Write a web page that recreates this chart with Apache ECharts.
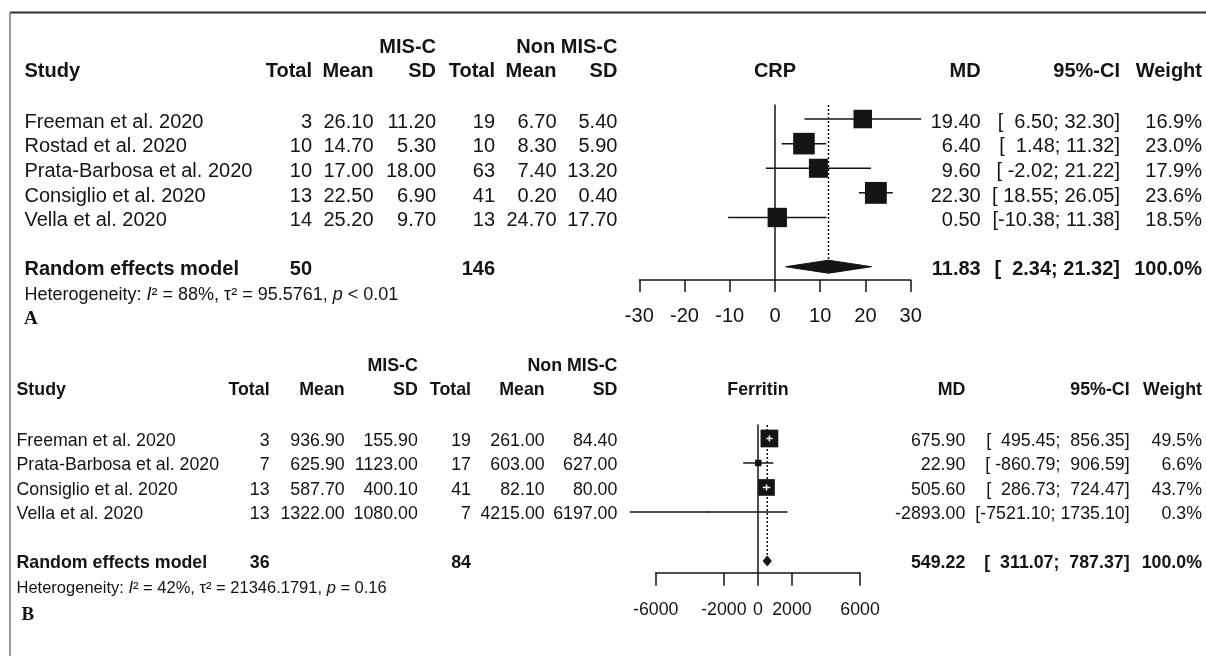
<!DOCTYPE html>
<html>
<head>
<meta charset="utf-8">
<script src="https://cdn.jsdelivr.net/npm/echarts@6/dist/echarts.min.js"></script>
<style>
  html, body { margin: 0; padding: 0; background: #fff; }
  #chart { width: 1206px; height: 656px; }
</style>
</head>
<body>
<div id="chart"></div>
<script>
// ---------- Panel A: CRP ----------
const crpStudies = ['Freeman et al. 2020', 'Rostad et al. 2020', 'Prata-Barbosa et al. 2020', 'Consiglio et al. 2020', 'Vella et al. 2020'];
const crpMiscN = [3, 10, 10, 13, 14];
const crpMiscMean = [26.10, 14.70, 17.00, 22.50, 25.20];
const crpMiscSD = [11.20, 5.30, 18.00, 6.90, 9.70];
const crpNonN = [19, 10, 63, 41, 13];
const crpNonMean = [6.70, 8.30, 7.40, 0.20, 24.70];
const crpNonSD = [5.40, 5.90, 13.20, 0.40, 17.70];
const crpMD = [19.40, 6.40, 9.60, 22.30, 0.50];
const crpLower = [6.50, 1.48, -2.02, 18.55, -10.38];
const crpUpper = [32.30, 11.32, 21.22, 26.05, 11.38];
const crpWeight = [16.9, 23.0, 17.9, 23.6, 18.5];
const crpPooled = [11.83, 2.34, 21.32];          // MD, lower, upper
const crpTotals = [50, 146];
const crpHet = ['88%', '95.5761', '< 0.01'];      // I², tau², p
const crpTicks = [-30, -20, -10, 0, 10, 20, 30];

// ---------- Panel B: Ferritin ----------
const ferStudies = ['Freeman et al. 2020', 'Prata-Barbosa et al. 2020', 'Consiglio et al. 2020', 'Vella et al. 2020'];
const ferMiscN = [3, 7, 13, 13];
const ferMiscMean = [936.90, 625.90, 587.70, 1322.00];
const ferMiscSD = [155.90, 1123.00, 400.10, 1080.00];
const ferNonN = [19, 17, 41, 7];
const ferNonMean = [261.00, 603.00, 82.10, 4215.00];
const ferNonSD = [84.40, 627.00, 80.00, 6197.00];
const ferMD = [675.90, 22.90, 505.60, -2893.00];
const ferLower = [495.45, -860.79, 286.73, -7521.10];
const ferUpper = [856.35, 906.59, 724.47, 1735.10];
const ferWeight = [49.5, 6.6, 43.7, 0.3];
const ferPooled = [549.22, 311.07, 787.37];
const ferTotals = [36, 84];
const ferHet = ['42%', '21346.1791', '= 0.16'];
const ferTicks = [-6000, -2000, 0, 2000, 6000];

const INK = '#141414';
const SANS = '"Liberation Sans", Arial, Helvetica, sans-serif';
const SERIF = '"Liberation Serif", "Times New Roman", serif';

// Panel layout
const panels = [
  {
    title: 'CRP', studies: crpStudies, miscN: crpMiscN, miscMean: crpMiscMean, miscSD: crpMiscSD,
    nonN: crpNonN, nonMean: crpNonMean, nonSD: crpNonSD, md: crpMD, lo: crpLower, hi: crpUpper,
    w: crpWeight, pooled: crpPooled, totals: crpTotals, het: crpHet, ticks: crpTicks, letter: 'A',
    grid: { left: 639.3, width: 271.4, top: 105, height: 175 },
    yMin: -0.57, yMax: 6.54, pooledRow: 6,
    xMin: -30, xMax: 30, xInterval: 10,
    boxK: 4.5, diamondH: 6.5, tickLen: 12, labelMargin: 26,
    font: 20, hetFont: 18, textDy: 3.2,
    studyX: 24.5, cols: [312, 373.5, 436, 495, 556.5, 617.4],
    mdX: 980.7, ciX: 1120, wX: 1202,
    groupY: 47.7, headY: 71.7, hetY: 295, letterY: 319.5, letterX: 24
  },
  {
    title: 'Ferritin', studies: ferStudies, miscN: ferMiscN, miscMean: ferMiscMean, miscSD: ferMiscSD,
    nonN: ferNonN, nonMean: ferNonMean, nonSD: ferNonSD, md: ferMD, lo: ferLower, hi: ferUpper,
    w: ferWeight, pooled: ferPooled, totals: ferTotals, het: ferHet, ticks: ferTicks, letter: 'B',
    grid: { left: 655.7, width: 204.4, top: 425, height: 147.7 },
    yMin: -0.55, yMax: 5.48, pooledRow: 5,
    xMin: -6000, xMax: 6000, xInterval: 2000,
    boxK: 2.52, diamondH: 5, tickLen: 13, labelMargin: 28,
    font: 17.8, hetFont: 16.5, textDy: 2.4,
    studyX: 16.5, cols: [269.6, 344.7, 417.8, 471, 544.7, 617.4],
    mdX: 965.3, ciX: 1129.6, wX: 1202,
    groupY: 366, headY: 390.5, hetY: 588.5, letterY: 615.5, letterX: 21.5
  }
];

const f2 = v => v.toFixed(2);
function padList(vals) {
  const s = vals.map(f2);
  const n = Math.max(...s.map(t => t.length));
  return s.map(t => t.padStart(n, ' '));
}

function studySeries(p, gi) {
  const rows = p.md.map((m, i) => [m, i, p.lo[i], p.hi[i], p.w[i]]);
  return [
    {
      type: 'line', xAxisIndex: gi, yAxisIndex: gi, silent: true, symbol: 'none', z: 1,
      data: [[p.pooled[0], p.yMin], [p.pooled[0], p.pooledRow]],
      lineStyle: { color: INK, width: 1.5, type: [2, 2] }
    },
    {
      type: 'custom', xAxisIndex: gi, yAxisIndex: gi, silent: true, clip: false, z: 3,
      data: rows,
      renderItem: (params, api) => {
        const y = api.value(1);
        const c = api.coord([api.value(0), y]);
        const l = api.coord([api.value(2), y]);
        const h = api.coord([api.value(3), y]);
        const s = p.boxK * Math.sqrt(api.value(4));
        const children = [
          { type: 'line', shape: { x1: l[0], y1: c[1], x2: h[0], y2: c[1] }, style: { stroke: INK, lineWidth: 1.5 } },
          { type: 'rect', shape: { x: c[0] - s / 2, y: c[1] - s / 2, width: s, height: s }, style: { fill: INK } }
        ];
        if (h[0] - l[0] < s) {
          children.push(
            { type: 'line', shape: { x1: l[0], y1: c[1], x2: h[0], y2: c[1] }, style: { stroke: '#fff', lineWidth: 1.5 } },
            { type: 'line', shape: { x1: c[0], y1: c[1] - 3, x2: c[0], y2: c[1] + 3 }, style: { stroke: '#fff', lineWidth: 1.5 } }
          );
        }
        return { type: 'group', children };
      }
    },
    {
      type: 'custom', xAxisIndex: gi, yAxisIndex: gi, silent: true, clip: false, z: 4,
      data: [[p.pooled[0], p.pooledRow, p.pooled[1], p.pooled[2]]],
      renderItem: (params, api) => {
        const y = api.value(1);
        const c = api.coord([api.value(0), y]);
        const l = api.coord([api.value(2), y]);
        const h = api.coord([api.value(3), y]);
        const d = p.diamondH;
        return {
          type: 'polygon',
          shape: { points: [[l[0], c[1]], [c[0], c[1] - d], [h[0], c[1]], [c[0], c[1] + d]] },
          style: { fill: INK, stroke: INK, lineWidth: 1 }
        };
      }
    }
  ];
}

const option = {
  animation: false,
  backgroundColor: '#fff',
  grid: panels.map(p => Object.assign({ containLabel: false }, p.grid)),
  xAxis: panels.map((p, gi) => ({
    gridIndex: gi, type: 'value', min: p.xMin, max: p.xMax, interval: p.xInterval,
    axisLine: { show: true, onZero: false, lineStyle: { color: INK, width: 1.5 } },
    axisTick: { show: true, length: p.tickLen, customValues: p.ticks, lineStyle: { color: INK, width: 1.5 } },
    axisLabel: {
      customValues: p.ticks, margin: p.labelMargin, fontSize: p.font, fontFamily: SANS, color: INK,
      formatter: v => String(v)
    },
    splitLine: { show: false }
  })),
  yAxis: panels.map((p, gi) => ({
    gridIndex: gi, type: 'value', inverse: true, min: p.yMin, max: p.yMax,
    axisLine: { show: true, onZero: true, lineStyle: { color: INK, width: 1.5 } },
    axisTick: { show: false }, axisLabel: { show: false }, splitLine: { show: false }
  })),
  series: panels.flatMap((p, gi) => studySeries(p, gi))
};

const chart = echarts.init(document.getElementById('chart'), null, { renderer: 'canvas' });
chart.setOption(option);

// ---------- Table text ----------
function txt(text, x, y, size, o) {
  o = o || {};
  const align = o.align || 'left';
  return {
    type: 'text', silent: true, z: 10,
    style: {
      text, x, y, fill: INK,
      font: (o.bold ? 'bold ' : '') + size + 'px ' + (o.family || SANS),
      align, textAlign: align, verticalAlign: 'middle', textVerticalAlign: 'middle'
    }
  };
}

const graphics = [
  { type: 'line', silent: true, shape: { x1: 10, y1: 12.5, x2: 1206, y2: 12.5 }, style: { stroke: '#333', lineWidth: 2 } },
  { type: 'line', silent: true, shape: { x1: 10, y1: 12, x2: 10, y2: 656 }, style: { stroke: '#777', lineWidth: 1.5 } }
];

panels.forEach((p, gi) => {
  const rowY = i => chart.convertToPixel({ yAxisIndex: gi }, i);
  const midX = chart.convertToPixel({ xAxisIndex: gi }, (p.xMin + p.xMax) / 2);
  const F = p.font, B = { bold: true }, R = { align: 'right' }, BR = { bold: true, align: 'right' };
  const c = p.cols;

  // Group captions and headings
  graphics.push(txt('MIS-C', c[2], p.groupY, F, BR));
  graphics.push(txt('Non MIS-C', c[5], p.groupY, F, BR));
  graphics.push(txt('Study', p.studyX, p.headY, F, B));
  ['Total', 'Mean', 'SD', 'Total', 'Mean', 'SD'].forEach((h, k) => graphics.push(txt(h, c[k], p.headY, F, BR)));
  graphics.push(txt(p.title, midX, p.headY, F, { bold: true, align: 'center' }));
  graphics.push(txt('MD', p.mdX, p.headY, F, BR));
  graphics.push(txt('95%-CI', p.ciX, p.headY, F, BR));
  graphics.push(txt('Weight', p.wX, p.headY, F, BR));

  // Study rows
  const loS = padList(p.lo.concat([p.pooled[1]]));
  const hiS = padList(p.hi.concat([p.pooled[2]]));
  p.studies.forEach((s, i) => {
    const y = rowY(i) + p.textDy;
    graphics.push(txt(s, p.studyX, y, F));
    [p.miscN[i], f2(p.miscMean[i]), f2(p.miscSD[i]), p.nonN[i], f2(p.nonMean[i]), f2(p.nonSD[i])]
      .forEach((v, k) => graphics.push(txt(String(v), c[k], y, F, R)));
    graphics.push(txt(f2(p.md[i]), p.mdX, y, F, R));
    graphics.push(txt('[' + loS[i] + '; ' + hiS[i] + ']', p.ciX, y, F, R));
    graphics.push(txt(p.w[i].toFixed(1) + '%', p.wX, y, F, R));
  });

  // Pooled row
  const yP = rowY(p.pooledRow) + p.textDy;
  const last = p.studies.length;
  graphics.push(txt('Random effects model', p.studyX, yP, F, B));
  graphics.push(txt(String(p.totals[0]), c[0], yP, F, BR));
  graphics.push(txt(String(p.totals[1]), c[3], yP, F, BR));
  graphics.push(txt(f2(p.pooled[0]), p.mdX, yP, F, BR));
  graphics.push(txt('[' + loS[last] + '; ' + hiS[last] + ']', p.ciX, yP, F, BR));
  graphics.push(txt('100.0%', p.wX, yP, F, BR));

  // Heterogeneity line
  const hs = p.hetFont;
  const pText = p.het[2].startsWith('<') || p.het[2].startsWith('=') ? ' ' + p.het[2] : ' = ' + p.het[2];
  graphics.push({
    type: 'text', silent: true, z: 10,
    style: {
      text: '{n|Heterogeneity: }{i|I}{n|² = ' + p.het[0] + ', τ² = ' + p.het[1] + ', }{i|p}{n|' + pText + '}',
      x: p.studyX, y: p.hetY, fill: INK,
      font: hs + 'px ' + SANS,
      align: 'left', textAlign: 'left', verticalAlign: 'middle', textVerticalAlign: 'middle',
      rich: {
        n: { fontSize: hs, fontFamily: SANS, fill: INK },
        i: { fontSize: hs, fontFamily: SANS, fontStyle: 'italic', fill: INK }
      }
    }
  });

  // Panel letter
  graphics.push(txt(p.letter, p.letterX, p.letterY, 19, { bold: true, family: SERIF }));
});

chart.setOption({ graphic: { elements: graphics } });
</script>
</body>
</html>
